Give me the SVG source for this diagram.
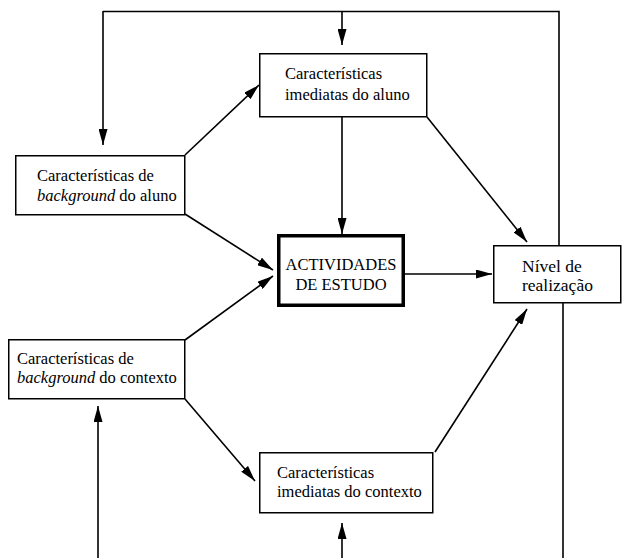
<svg xmlns="http://www.w3.org/2000/svg" width="623" height="558" viewBox="0 0 623 558">
<style>
.box{fill:#fff;stroke:#000;stroke-width:1.5}
.thick{fill:#fff;stroke:#000;stroke-width:3.5}
.t{font-family:"Liberation Serif","Times New Roman",serif;font-size:16.5px;fill:#000}
.big{font-size:17.5px}
.c{stroke:#000;stroke-width:1.6;fill:none}
.a{marker-end:url(#ah)}
</style>
<defs>
<marker id="ah" viewBox="0 0 16 9" refX="16" refY="4.5" markerWidth="16" markerHeight="9" orient="auto" markerUnits="userSpaceOnUse">
<path d="M0,0 L16,4.5 L0,9 z" fill="#000"/>
</marker>
</defs>
<rect width="623" height="558" fill="#fff"/>
<g id="connectors">
<polyline class="c" points="559,245 559,11.5 103,11.5"/>
<line class="c a" x1="103" y1="11" x2="103" y2="145"/>
<line class="c a" x1="342" y1="11.5" x2="342" y2="45"/>
<line class="c" x1="563" y1="303" x2="563" y2="560"/>
<line class="c a" x1="98" y1="560" x2="98" y2="406"/>
<line class="c a" x1="342" y1="560" x2="342" y2="523"/>
<line class="c a" x1="185" y1="155" x2="259" y2="85"/>
<line class="c a" x1="185" y1="214" x2="273" y2="270"/>
<line class="c a" x1="185" y1="340" x2="273" y2="276"/>
<line class="c a" x1="185" y1="399" x2="255" y2="481"/>
<line class="c a" x1="342" y1="117" x2="342" y2="234"/>
<line class="c a" x1="427" y1="117" x2="527" y2="242"/>
<line class="c a" x1="405" y1="274" x2="492" y2="274"/>
<line class="c a" x1="435" y1="452" x2="527" y2="309"/>
</g>
<g id="bg-aluno">
<rect class="box" x="15.75" y="155.75" width="169" height="59"/>
<text class="t" x="37" y="181">Características de</text>
<text class="t" x="37" y="201"><tspan font-style="italic">background</tspan> do aluno</text>
</g>
<g id="imed-aluno">
<rect class="box" x="259.75" y="53.75" width="167" height="63"/>
<text class="t" x="285" y="79">Características</text>
<text class="t" x="285" y="100">imediatas do aluno</text>
</g>
<g id="actividades">
<rect class="thick" x="278.75" y="235.75" width="124.5" height="69.5"/>
<text class="t" x="341" y="270" text-anchor="middle">ACTIVIDADES</text>
<text class="t" x="341" y="290" text-anchor="middle">DE ESTUDO</text>
</g>
<g id="nivel">
<rect class="box" x="493.75" y="245.75" width="127" height="57"/>
<text class="t big" x="522" y="272">Nível de</text>
<text class="t big" x="522" y="291">realização</text>
</g>
<g id="bg-contexto">
<rect class="box" x="8.75" y="339.75" width="176" height="59"/>
<text class="t" x="17" y="364">Características de</text>
<text class="t" x="17" y="383"><tspan font-style="italic">background</tspan> do contexto</text>
</g>
<g id="imed-contexto">
<rect class="box" x="259.75" y="452.75" width="173" height="60"/>
<text class="t" x="277" y="478">Características</text>
<text class="t" x="277" y="497">imediatas do contexto</text>
</g>
</svg>
